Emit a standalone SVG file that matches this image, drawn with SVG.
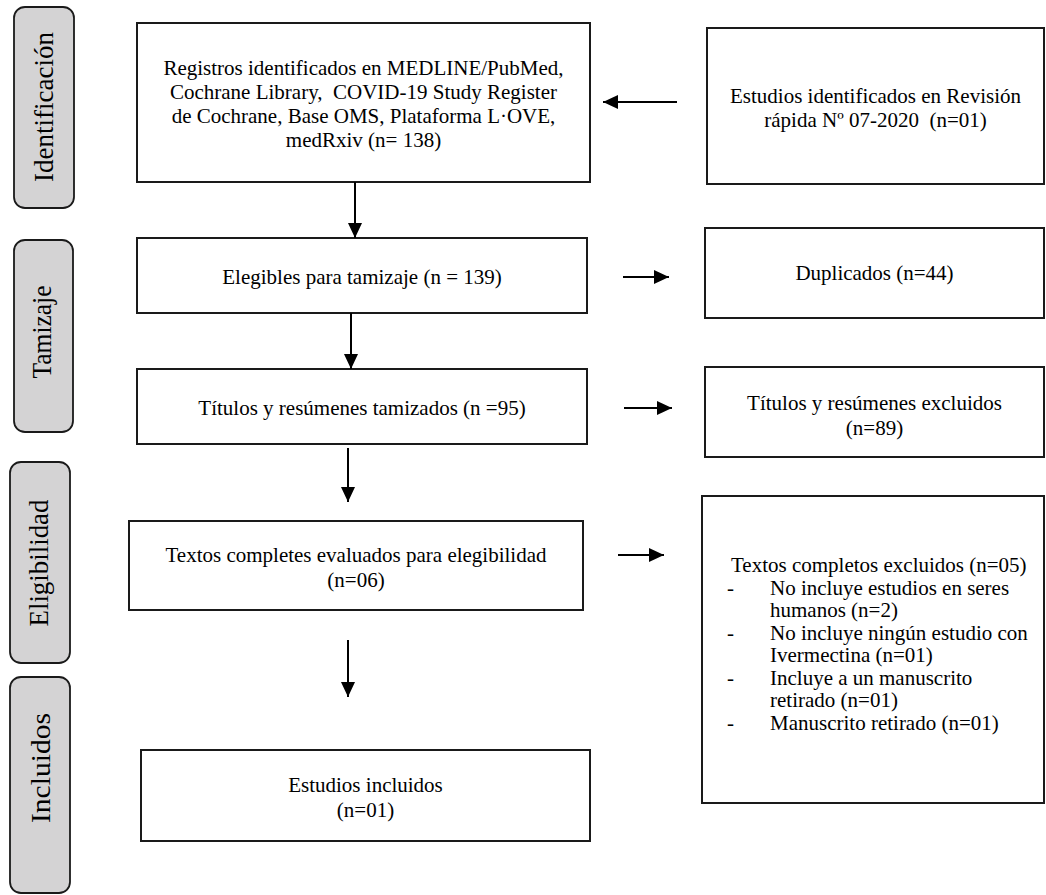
<svg xmlns="http://www.w3.org/2000/svg" width="1046" height="895" viewBox="0 0 1046 895">
<style>
  .bg { fill: #ffffff; }
  .phase { fill: #d4d3d4; stroke: #1a1a1a; stroke-width: 1.8; }
  .phase-t { font-family: "Liberation Serif", "Times New Roman", serif; font-size: 27px; fill: #000; text-anchor: middle; }
  .box { fill: #ffffff; stroke: #1a1a1a; stroke-width: 2; }
  .t { font-family: "Liberation Serif", "Times New Roman", serif; font-size: 21px; fill: #000; }
  .c { text-anchor: middle; }
  .conn { stroke: #000; stroke-width: 2; fill: none; }
</style>
<defs>
  <marker id="ah" markerUnits="userSpaceOnUse" markerWidth="16" markerHeight="14" refX="15" refY="7" orient="auto">
    <path d="M0,0 L15,7 L0,14 Z" fill="#000"/>
  </marker>
</defs>
<rect class="bg" x="0" y="0" width="1046" height="895"/>

<g id="phase-identificacion">
  <rect class="phase" x="14" y="7" width="60" height="201" rx="11"/>
  <text class="phase-t" transform="translate(53,107) rotate(-90)" textLength="150" lengthAdjust="spacingAndGlyphs">Identificación</text>
</g>
<g id="phase-tamizaje">
  <rect class="phase" x="14" y="240" width="59" height="192" rx="11"/>
  <text class="phase-t" transform="translate(51,332) rotate(-90)" textLength="93" lengthAdjust="spacingAndGlyphs">Tamizaje</text>
</g>
<g id="phase-elegibilidad">
  <rect class="phase" x="10" y="462" width="60" height="201" rx="11"/>
  <text class="phase-t" transform="translate(48,563) rotate(-90)" textLength="127" lengthAdjust="spacingAndGlyphs">Eligibilidad</text>
</g>
<g id="phase-incluidos">
  <rect class="phase" x="10" y="677" width="60" height="216" rx="11"/>
  <text class="phase-t" transform="translate(50,768) rotate(-90)" textLength="110" lengthAdjust="spacingAndGlyphs">Incluidos</text>
</g>

<g id="n-registros">
  <rect class="box" x="137" y="23" width="453" height="159"/>
  <text class="t c" x="363.5" y="75">Registros identificados en MEDLINE/PubMed,</text>
  <text class="t c" x="363.5" y="99" style="white-space:pre">Cochrane Library,  COVID-19 Study Register</text>
  <text class="t c" x="363.5" y="123">de Cochrane, Base OMS, Plataforma L·OVE,</text>
  <text class="t c" x="363.5" y="147">medRxiv (n= 138)</text>
</g>
<g id="n-revision">
  <rect class="box" x="707" y="28" width="337" height="156"/>
  <text class="t c" x="875.5" y="103">Estudios identificados en Revisión</text>
  <text class="t c" x="875.5" y="127" style="white-space:pre">rápida Nº 07-2020  (n=01)</text>
</g>
<g id="n-elegibles">
  <rect class="box" x="137" y="238" width="450" height="75"/>
  <text class="t c" x="362" y="284">Elegibles para tamizaje (n = 139)</text>
</g>
<g id="n-duplicados">
  <rect class="box" x="705" y="228" width="339" height="90"/>
  <text class="t c" x="874.5" y="280">Duplicados (n=44)</text>
</g>
<g id="n-titulos">
  <rect class="box" x="137" y="369" width="450" height="75"/>
  <text class="t c" x="362" y="415">Títulos y resúmenes tamizados (n =95)</text>
</g>
<g id="n-titulos-excl">
  <rect class="box" x="705" y="367" width="339" height="90"/>
  <text class="t c" x="874.5" y="410">Títulos y resúmenes excluidos</text>
  <text class="t c" x="874.5" y="435">(n=89)</text>
</g>
<g id="n-textos">
  <rect class="box" x="129" y="521" width="454" height="89"/>
  <text class="t c" x="356" y="562">Textos completes evaluados para elegibilidad</text>
  <text class="t c" x="356" y="587">(n=06)</text>
</g>
<g id="n-textos-excl">
  <rect class="box" x="702" y="496" width="342" height="307"/>
  <text class="t" x="731" y="572">Textos completos excluidos (n=05)</text>
  <text class="t" x="727" y="595">-</text>
  <text class="t" x="770" y="595">No incluye estudios en seres</text>
  <text class="t" x="770" y="617">humanos (n=2)</text>
  <text class="t" x="727" y="640">-</text>
  <text class="t" x="770" y="640">No incluye ningún estudio con</text>
  <text class="t" x="770" y="662">Ivermectina (n=01)</text>
  <text class="t" x="727" y="685">-</text>
  <text class="t" x="770" y="685">Incluye a un manuscrito</text>
  <text class="t" x="770" y="707">retirado (n=01)</text>
  <text class="t" x="727" y="730">-</text>
  <text class="t" x="770" y="730">Manuscrito retirado (n=01)</text>
</g>
<g id="n-incluidos">
  <rect class="box" x="141" y="750" width="449" height="91"/>
  <text class="t c" x="365.5" y="792">Estudios incluidos</text>
  <text class="t c" x="365.5" y="817">(n=01)</text>
</g>

<g id="connectors">
  <line class="conn" x1="677" y1="102" x2="603" y2="102" marker-end="url(#ah)"/>
  <line class="conn" x1="355" y1="182" x2="355" y2="238" marker-end="url(#ah)"/>
  <line class="conn" x1="623" y1="277" x2="669" y2="277" marker-end="url(#ah)"/>
  <line class="conn" x1="351" y1="313" x2="351" y2="369" marker-end="url(#ah)"/>
  <line class="conn" x1="624" y1="408" x2="672" y2="408" marker-end="url(#ah)"/>
  <line class="conn" x1="348" y1="448" x2="348" y2="502" marker-end="url(#ah)"/>
  <line class="conn" x1="618" y1="555" x2="664" y2="555" marker-end="url(#ah)"/>
  <line class="conn" x1="348" y1="640" x2="348" y2="697" marker-end="url(#ah)"/>
</g>
</svg>
